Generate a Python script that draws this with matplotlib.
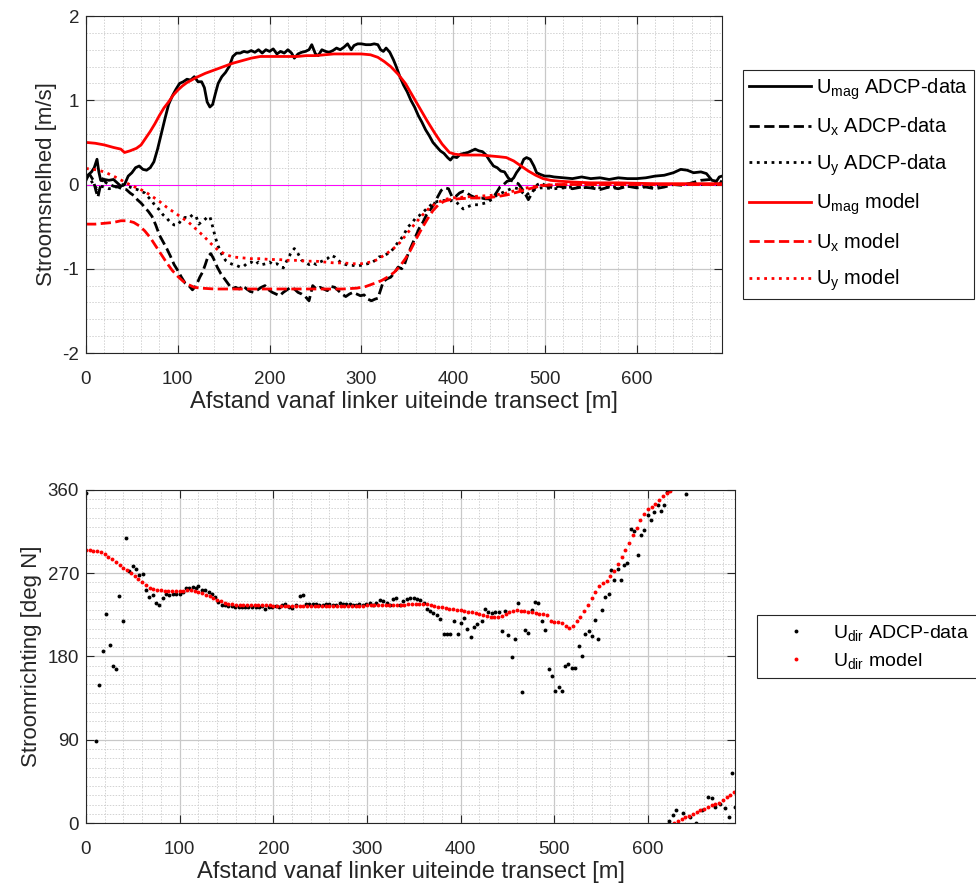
import numpy as np
import matplotlib
matplotlib.use("Agg")
import matplotlib.pyplot as plt
from matplotlib.ticker import MultipleLocator

plt.rcParams['font.family'] = ['Liberation Sans', 'DejaVu Sans']
plt.rcParams['mathtext.default'] = 'regular'
plt.rcParams['axes.unicode_minus'] = False

# ---- top panel: velocity components [m/s] ----
umag_adcp_x = [0, 3, 6, 9, 12, 14, 16, 20, 25, 30, 34, 38, 42, 46, 50, 54, 58, 62, 66, 70,
               74, 78, 82, 86, 90, 94, 98, 102, 106, 110, 114, 118, 122, 126, 129, 132, 135, 138, 141, 144,
               148, 152, 156, 160, 164, 168, 172, 176, 180, 184, 188, 192, 196, 200, 204, 208, 212, 216, 220, 224,
               227, 231, 235, 239, 243, 246, 250, 253, 257, 261, 265, 269, 273, 277, 281, 285, 289, 292, 296, 300,
               305, 310, 314, 318, 321, 324, 327, 331, 335, 338, 342, 346, 350, 354, 358, 362, 366, 370, 374, 378,
               382, 386, 390, 394, 397, 400, 404, 408, 412, 416, 420, 424, 428, 432, 436, 440, 444, 448, 452, 456,
               460, 463, 466, 469, 473, 477, 480, 484, 488, 491, 495, 500, 505, 510, 520, 530, 540, 550, 560, 570,
               580, 590, 600, 610, 620, 630, 640, 648, 655, 662, 670, 676, 682, 687, 690, 693]
umag_adcp = [0.05, 0.12, 0.15, 0.2, 0.3, 0.15, 0.05, 0.06, 0.05, 0.06, 0.02, -0.02, 0.0, 0.1, 0.14, 0.2, 0.22, 0.18, 0.17, 0.2,
             0.27, 0.42, 0.6, 0.78, 0.95, 1.05, 1.13, 1.2, 1.22, 1.25, 1.24, 1.28, 1.22, 1.22, 1.15, 0.98, 0.92, 0.95, 1.08, 1.2,
             1.28, 1.33, 1.4, 1.52, 1.56, 1.56, 1.58, 1.57, 1.59, 1.57, 1.6, 1.56, 1.6, 1.58, 1.61, 1.55, 1.58, 1.56, 1.6, 1.56,
             1.5, 1.55, 1.57, 1.58, 1.6, 1.66, 1.55, 1.53, 1.6, 1.58, 1.57, 1.59, 1.62, 1.6, 1.63, 1.67, 1.6, 1.65, 1.67, 1.67,
             1.66, 1.66, 1.67, 1.66, 1.6, 1.58, 1.62, 1.57, 1.48, 1.4, 1.28, 1.18, 1.1, 1.0, 0.92, 0.82, 0.74, 0.65, 0.58, 0.5,
             0.45, 0.4, 0.37, 0.32, 0.29, 0.33, 0.32, 0.36, 0.37, 0.38, 0.4, 0.42, 0.4, 0.39, 0.35, 0.28, 0.22, 0.2, 0.16, 0.15,
             0.08, 0.05, 0.08, 0.14, 0.2, 0.3, 0.32, 0.3, 0.22, 0.14, 0.12, 0.1, 0.1, 0.09, 0.08, 0.07, 0.09, 0.07, 0.08, 0.06,
             0.08, 0.07, 0.07, 0.08, 0.1, 0.11, 0.14, 0.18, 0.17, 0.14, 0.15, 0.13, 0.05, 0.04, 0.09, 0.1]

ux_adcp_x = [0, 4, 8, 11, 13, 15, 18, 22, 26, 30, 35, 39, 44, 48, 52, 56, 60, 64, 68, 72,
             76, 80, 84, 88, 92, 96, 100, 104, 108, 112, 116, 120, 124, 127, 130, 133, 136, 139, 143, 147,
             151, 155, 159, 163, 167, 171, 175, 179, 183, 187, 191, 195, 199, 203, 207, 211, 215, 219, 223, 227,
             231, 235, 239, 243, 247, 251, 255, 259, 263, 267, 271, 275, 279, 283, 287, 291, 295, 299, 303, 307,
             311, 315, 318, 321, 324, 328, 332, 336, 340, 344, 347, 351, 355, 359, 363, 367, 371, 375, 379, 383,
             387, 391, 395, 399, 403, 407, 411, 415, 419, 423, 427, 431, 435, 439, 443, 447, 451, 455, 459, 463,
             467, 471, 475, 479, 482, 485, 488, 492, 496, 500, 505, 510, 515, 520, 530, 540, 550, 560, 570, 580,
             590, 600, 610, 620, 630, 640, 650, 660, 670, 680, 685, 690, 693]
ux_adcp = [0.1, 0.12, 0.05, -0.08, -0.15, -0.05, 0.07, 0.02, 0.0, -0.02, -0.03, -0.05, -0.06, -0.1, -0.13, -0.18, -0.22, -0.27, -0.32, -0.38,
           -0.48, -0.6, -0.68, -0.76, -0.85, -0.95, -1.02, -1.1, -1.17, -1.2, -1.25, -1.2, -1.1, -1.04, -0.95, -0.85, -0.82, -0.88, -0.98, -1.06,
           -1.12, -1.18, -1.24, -1.22, -1.24, -1.2, -1.24, -1.27, -1.28, -1.25, -1.22, -1.2, -1.25, -1.28, -1.3, -1.32, -1.28, -1.25, -1.22, -1.24,
           -1.28, -1.3, -1.33, -1.38, -1.2, -1.24, -1.22, -1.24, -1.26, -1.21, -1.22, -1.26, -1.3, -1.33, -1.3, -1.28, -1.3, -1.32, -1.31, -1.36,
           -1.38, -1.36, -1.35, -1.25, -1.15, -1.12, -1.1, -1.05, -0.98, -1.0, -0.95, -0.82, -0.72, -0.62, -0.52, -0.45, -0.36, -0.3, -0.24, -0.15,
           -0.07, -0.04, -0.05, -0.15, -0.14, -0.1, -0.08, -0.1, -0.13, -0.15, -0.16, -0.16, -0.17, -0.17, -0.16, -0.1, -0.03, 0.0, 0.04, 0.05,
           0.03, 0.01, -0.05, -0.12, -0.18, -0.12, -0.06, 0.0, 0.02, -0.01, -0.03, -0.04, -0.02, -0.03, -0.05, -0.03, -0.04, -0.06, -0.03, -0.05,
           -0.02, -0.04, -0.03, -0.05, -0.03, 0.0, -0.01, 0.02, 0.05, 0.06, 0.02, 0.0, 0.05]

uy_adcp_x = [0, 4, 8, 12, 16, 20, 25, 30, 35, 40, 44, 48, 52, 56, 60, 64, 68, 72, 76, 80,
             84, 88, 92, 96, 100, 104, 108, 112, 116, 120, 123, 126, 129, 132, 135, 138, 141, 144, 148, 152,
             156, 160, 164, 168, 172, 176, 180, 184, 188, 192, 196, 200, 204, 208, 212, 215, 219, 223, 227, 231,
             235, 239, 243, 247, 251, 255, 259, 263, 267, 271, 275, 279, 283, 287, 291, 295, 299, 303, 307, 311,
             315, 319, 323, 327, 331, 335, 339, 343, 347, 351, 355, 359, 363, 367, 371, 375, 379, 383, 387, 391,
             395, 399, 403, 407, 411, 415, 419, 423, 427, 431, 435, 439, 443, 447, 451, 455, 459, 463, 467, 471,
             475, 479, 483, 487, 491, 495, 500, 510, 520, 530, 540, 550, 560, 570, 580, 590, 600, 610, 620, 630,
             640, 650, 660, 670, 680, 693]
uy_adcp = [0.1, 0.08, 0.0, -0.05, -0.02, -0.03, -0.05, -0.04, -0.02, 0.0, -0.02, -0.03, -0.05, -0.06, -0.08, -0.1, -0.15, -0.2, -0.26, -0.3,
           -0.36, -0.4, -0.45, -0.48, -0.48, -0.42, -0.39, -0.4, -0.36, -0.38, -0.47, -0.44, -0.42, -0.39, -0.38, -0.5, -0.63, -0.73, -0.83, -0.9,
           -0.93, -0.95, -0.96, -0.98, -0.97, -0.93, -0.92, -0.95, -0.92, -0.95, -0.94, -0.92, -0.95, -0.94, -0.97, -0.99, -0.9, -0.82, -0.76, -0.82,
           -0.9, -0.92, -0.95, -0.93, -0.95, -0.92, -0.9, -0.88, -0.84, -0.86, -0.9, -0.94, -0.95, -0.96, -0.96, -0.97, -0.96, -0.95, -0.94, -0.93,
           -0.9, -0.86, -0.85, -0.83, -0.81, -0.76, -0.7, -0.65, -0.58, -0.5, -0.46, -0.4, -0.37, -0.33, -0.29, -0.25, -0.22, -0.2, -0.19, -0.19,
           -0.2, -0.19, -0.2, -0.25, -0.29, -0.27, -0.25, -0.24, -0.24, -0.23, -0.22, -0.2, -0.17, -0.13, -0.11, -0.09, -0.07, -0.05, -0.04, -0.05,
           -0.09, -0.13, -0.1, -0.07, -0.05, -0.04, -0.04, -0.05, -0.04, -0.03, -0.04, -0.03, -0.04, -0.03, -0.03, -0.02, -0.03, -0.02, -0.01, -0.01,
           0.0, 0.0, 0.01, 0.0, 0.0, 0.0]

umag_model_x = [0, 10, 20, 30, 38, 42, 48, 55, 60, 65, 70, 75, 80, 85, 90, 95, 100, 105, 110, 115,
                120, 130, 140, 150, 160, 170, 180, 190, 200, 210, 220, 230, 240, 250, 260, 270, 280, 290, 300, 310,
                318, 325, 332, 340, 348, 356, 364, 372, 380, 388, 396, 402, 410, 420, 430, 440, 450, 458, 466, 474,
                482, 490, 498, 506, 515, 530, 550, 580, 620, 660, 693]
umag_model = [0.5, 0.49, 0.47, 0.44, 0.42, 0.38, 0.4, 0.43, 0.47, 0.55, 0.63, 0.72, 0.82, 0.91, 0.98, 1.06, 1.12, 1.17, 1.21, 1.24,
              1.27, 1.32, 1.36, 1.4, 1.44, 1.47, 1.5, 1.52, 1.52, 1.52, 1.52, 1.52, 1.53, 1.53, 1.54, 1.55, 1.55, 1.55, 1.55, 1.54,
              1.51, 1.46, 1.4, 1.31, 1.2, 1.05, 0.9, 0.75, 0.61, 0.48, 0.38, 0.36, 0.35, 0.35, 0.35, 0.34, 0.33, 0.32, 0.28, 0.22,
              0.16, 0.11, 0.07, 0.05, 0.04, 0.03, 0.02, 0.02, 0.01, 0.01, 0.01]

ux_model_x = [0, 10, 20, 30, 38, 45, 52, 58, 64, 70, 76, 82, 88, 94, 100, 106, 112, 118, 125, 140,
              160, 180, 200, 220, 240, 260, 280, 295, 305, 315, 322, 330, 336, 342, 348, 354, 360, 366, 372, 378,
              384, 390, 396, 405, 420, 435, 450, 460, 470, 480, 490, 500, 515, 560, 620, 693]
ux_model = [-0.47, -0.47, -0.46, -0.45, -0.43, -0.43, -0.45, -0.49, -0.55, -0.63, -0.73, -0.83, -0.93, -1.02, -1.09, -1.15, -1.19, -1.22, -1.23, -1.24,
            -1.24, -1.24, -1.24, -1.24, -1.24, -1.24, -1.24, -1.23, -1.21, -1.17, -1.14, -1.09, -1.04, -0.97, -0.88, -0.77, -0.64, -0.52, -0.41, -0.31,
            -0.24, -0.2, -0.18, -0.17, -0.16, -0.16, -0.14, -0.12, -0.09, -0.06, -0.03, -0.01, 0.0, 0.0, 0.0, 0.0]

uy_model_x = [0, 8, 14, 22, 30, 37, 44, 51, 58, 65, 72, 80, 88, 96, 104, 112, 120, 128, 136, 144,
              152, 160, 170, 180, 190, 200, 210, 220, 230, 240, 250, 260, 270, 280, 290, 300, 310, 318, 326, 334,
              342, 350, 358, 366, 374, 382, 390, 398, 410, 425, 440, 455, 465, 475, 485, 495, 510, 560, 620, 693]
uy_model = [0.19, 0.18, 0.17, 0.14, 0.1, 0.06, 0.02, -0.02, -0.05, -0.09, -0.14, -0.2, -0.27, -0.33, -0.39, -0.45, -0.53, -0.61, -0.7, -0.78,
            -0.83, -0.86, -0.87, -0.88, -0.88, -0.89, -0.89, -0.9, -0.9, -0.91, -0.91, -0.92, -0.93, -0.93, -0.94, -0.94, -0.92, -0.89, -0.83, -0.77,
            -0.69, -0.58, -0.47, -0.37, -0.28, -0.22, -0.18, -0.16, -0.15, -0.14, -0.13, -0.11, -0.08, -0.05, -0.03, -0.01, 0.0, 0.0, 0.0, 0.0]

# ---- bottom panel: direction [deg N] ----
udir_adcp_x = [0, 10.7, 14.3, 17.9, 21.4, 25.6, 28.5, 32, 35.6, 39.2, 42.7, 46.3, 49.9, 53.4, 57, 60.5, 64, 67.7, 71.2, 74.8,
               78.3, 81.9, 85.5, 89, 92.6, 96, 100, 103.5, 107, 110.5, 114, 117.5, 120, 124, 127.5, 131, 134.5, 138, 141, 145,
               148.5, 152, 155.5, 159, 163, 166.5, 170, 173.5, 177, 181, 184.5, 188, 191.5, 195, 199, 202.5, 206, 209.5, 213, 217,
               220, 224, 228, 231.5, 235, 238.5, 242, 245.5, 249, 253, 256.5, 260, 263.5, 267, 271, 274.5, 278, 281.5, 285, 288.5,
               292, 296, 299.5, 303, 306.5, 310, 314, 317.5, 321, 324.5, 328, 331.5, 335.5, 339, 342.6, 346, 349.7, 353, 356.8, 360.5,
               364, 367.5, 371, 374.7, 378, 381.8, 385.5, 389, 393, 396.7, 400, 403.8, 407, 411, 414.6, 418, 422.7, 426, 429.5, 433,
               437, 440.6, 444, 447.6, 451, 454.7, 458, 461.8, 465.3, 469, 472.3, 476, 479.6, 483, 486.7, 490, 493.9, 497.4, 501, 504.6,
               508, 511.7, 515, 518.8, 522.4, 526, 529.5, 533, 536.6, 540, 543.7, 547, 550.8, 554.4, 558, 560.5, 564, 567.6, 571, 574.7,
               578, 581.8, 585, 589, 592.6, 596, 599.7, 603, 606.8, 610.4, 614, 617.5, 620.3, 623, 626.5, 630, 637, 640.7, 644.4, 651.5,
               657.5, 664.6, 668, 671.7, 677, 682.4, 687, 689.4, 693]
udir_adcp = [357, 89, 149, 186, 226, 192, 170, 167, 245, 218, 308, 272, 278, 275, 268, 269, 252, 244, 246, 238,
             236, 243, 248, 246, 248, 248, 248, 250, 254, 254, 255, 254, 256, 252, 252, 250, 248, 244, 239, 236,
             236, 235, 235, 234, 234, 234, 233, 234, 234, 234, 233, 235, 231, 234, 234, 235, 234, 236, 237, 234,
             232, 236, 245, 246, 237, 237, 237, 237, 236, 236, 237, 237, 236, 236, 238, 237, 237, 237, 236, 236,
             237, 236, 237, 238, 236, 238, 241, 240, 238, 236, 242, 243, 236, 240, 242, 243, 243, 242, 241, 238,
             231, 229, 227, 225, 220, 204, 204, 204, 218, 204, 216, 222, 210, 201, 212, 215, 218, 231, 228, 227,
             228, 228, 208, 229, 203, 179, 199, 238, 142, 209, 205, 230, 239, 238, 218, 209, 167, 159, 143, 147,
             143, 170, 172, 168, 168, 191, 180, 204, 208, 202, 219, 199, 230, 244, 248, 273, 263, 275, 263, 279,
             281, 318, 316, 290, 311, 317, 333, 327, 336, 344, 337, 344, 358, 2.5, 9, 14, 10.5, 355.6, 7, 0.5,
             14, 28, 26.6, 17.6, 21, 16, 7, 54, 17.6]

udir_model_x = np.arange(0, 693, 4)
udir_model = [295, 295, 294, 294, 293, 291, 288, 285, 282, 279, 276, 273, 270, 267, 264, 260, 257, 254, 253, 252,
              252, 251, 251, 251, 251, 251, 251, 252, 252, 251, 250, 249, 247, 245, 243, 241, 240, 238, 237, 237,
              236, 236, 236, 236, 236, 236, 236, 236, 236, 236, 235, 235, 235, 235, 235, 235, 235, 235, 235, 235,
              235, 235, 235, 235, 235, 235, 235, 235, 235, 235, 235, 235, 235, 235, 235, 236, 236, 236, 236, 236,
              236, 236, 236, 236, 236, 236, 237, 237, 237, 237, 237, 237, 236, 235, 234, 233, 232, 231, 231, 230,
              230, 229, 228, 228, 227, 226, 225, 224, 223, 223, 223, 224, 226, 228, 229, 230, 229, 229, 228, 228,
              227, 226, 226, 225, 218, 217, 217, 216, 213, 211, 213, 218, 223, 229, 236, 243, 250, 256, 259, 262,
              267, 272, 280, 287, 295, 303, 311, 319, 327, 334, 339, 342, 345, 349, 353, 357, 359, 0.5, 2, 4,
              6, 8, 10, 12, 14, 15, 17, 19, 21, 22, 25, 28, 30, 34]

TXT = '#262626'


def style_axes(ax):
    ax.set_xlim(0, 693)
    ax.xaxis.set_major_locator(MultipleLocator(100))
    ax.xaxis.set_minor_locator(MultipleLocator(20))
    ax.grid(True, which='major', color='#c8c8c8', linewidth=0.9)
    ax.grid(True, which='minor', color='#d2d2d2', linewidth=0.7, linestyle=(0, (1.5, 1.5)))
    ax.set_axisbelow(True)
    ax.tick_params(which='major', direction='in', top=True, right=True, length=6,
                   labelsize=13.5, colors=TXT, width=0.8)
    ax.tick_params(axis='x', which='major', pad=13)
    ax.tick_params(axis='y', which='major', pad=5)
    ax.tick_params(which='minor', length=0)
    for s in ax.spines.values():
        s.set_color(TXT)
        s.set_linewidth(0.8)
    ax.set_xlabel('Afstand vanaf linker uiteinde transect [m]', fontsize=17, color=TXT, labelpad=2)


fig = plt.figure(figsize=(9.76, 8.91), dpi=100)

ax1 = fig.add_axes([0.0881, 0.6038, 0.6517, 0.3782])
ax1.axhline(0, color='#ff00ff', linewidth=0.7, zorder=1)
ax1.plot(umag_adcp_x, umag_adcp, color='k', linewidth=2, label=r'$U_{mag}$ ADCP-data')
ax1.plot(ux_adcp_x, ux_adcp, color='k', linewidth=2, linestyle='--', label=r'$U_{x}$ ADCP-data')
ax1.plot(uy_adcp_x, uy_adcp, color='k', linewidth=2, linestyle=':', label=r'$U_{y}$ ADCP-data')
ax1.plot(umag_model_x, umag_model, color='#ff0000', linewidth=2, label=r'$U_{mag}$ model')
ax1.plot(ux_model_x, ux_model, color='#ff0000', linewidth=2, linestyle='--', label=r'$U_{x}$ model')
ax1.plot(uy_model_x, uy_model, color='#ff0000', linewidth=2, linestyle=':', label=r'$U_{y}$ model')
ax1.set_ylim(-2, 2)
ax1.yaxis.set_major_locator(MultipleLocator(1))
ax1.yaxis.set_minor_locator(MultipleLocator(0.2))
style_axes(ax1)
ax1.set_ylabel('Stroomsnelhed [m/s]', fontsize=16, color=TXT, labelpad=4)
leg1 = ax1.legend(loc='upper left', bbox_to_anchor=(743 / 976, 1 - 70 / 891),
                  bbox_transform=fig.transFigure, borderaxespad=0, fontsize=14.5,
                  handlelength=3.1, handletextpad=0.2, labelspacing=0.7,
                  fancybox=False, framealpha=1, edgecolor=TXT, borderpad=0.3)
leg1.get_frame().set_linewidth(0.8)

ax2 = fig.add_axes([0.0881, 0.0763, 0.665, 0.3738])
ax2.plot(udir_adcp_x, udir_adcp, 'o', color='k', markersize=2.8, markeredgewidth=0,
         label=r'$U_{dir}$ ADCP-data')
ax2.plot(udir_model_x, udir_model, 'o', color='#ff0000', markersize=2.8, markeredgewidth=0,
         label=r'$U_{dir}$ model')
ax2.set_ylim(0, 360)
ax2.yaxis.set_major_locator(MultipleLocator(90))
ax2.yaxis.set_minor_locator(MultipleLocator(10))
style_axes(ax2)
ax2.set_ylabel('Stroomrichting [deg N]', fontsize=16, color=TXT, labelpad=4)
leg2 = ax2.legend(loc='upper left', bbox_to_anchor=(757 / 976, 1 - 615 / 891),
                  bbox_transform=fig.transFigure, borderaxespad=0, fontsize=14,
                  handlelength=3.2, handletextpad=0.3, labelspacing=0.4,
                  fancybox=False, framealpha=1, edgecolor=TXT, borderpad=0.4)
leg2.get_frame().set_linewidth(0.8)

fig.savefig('out.png', dpi=100)
